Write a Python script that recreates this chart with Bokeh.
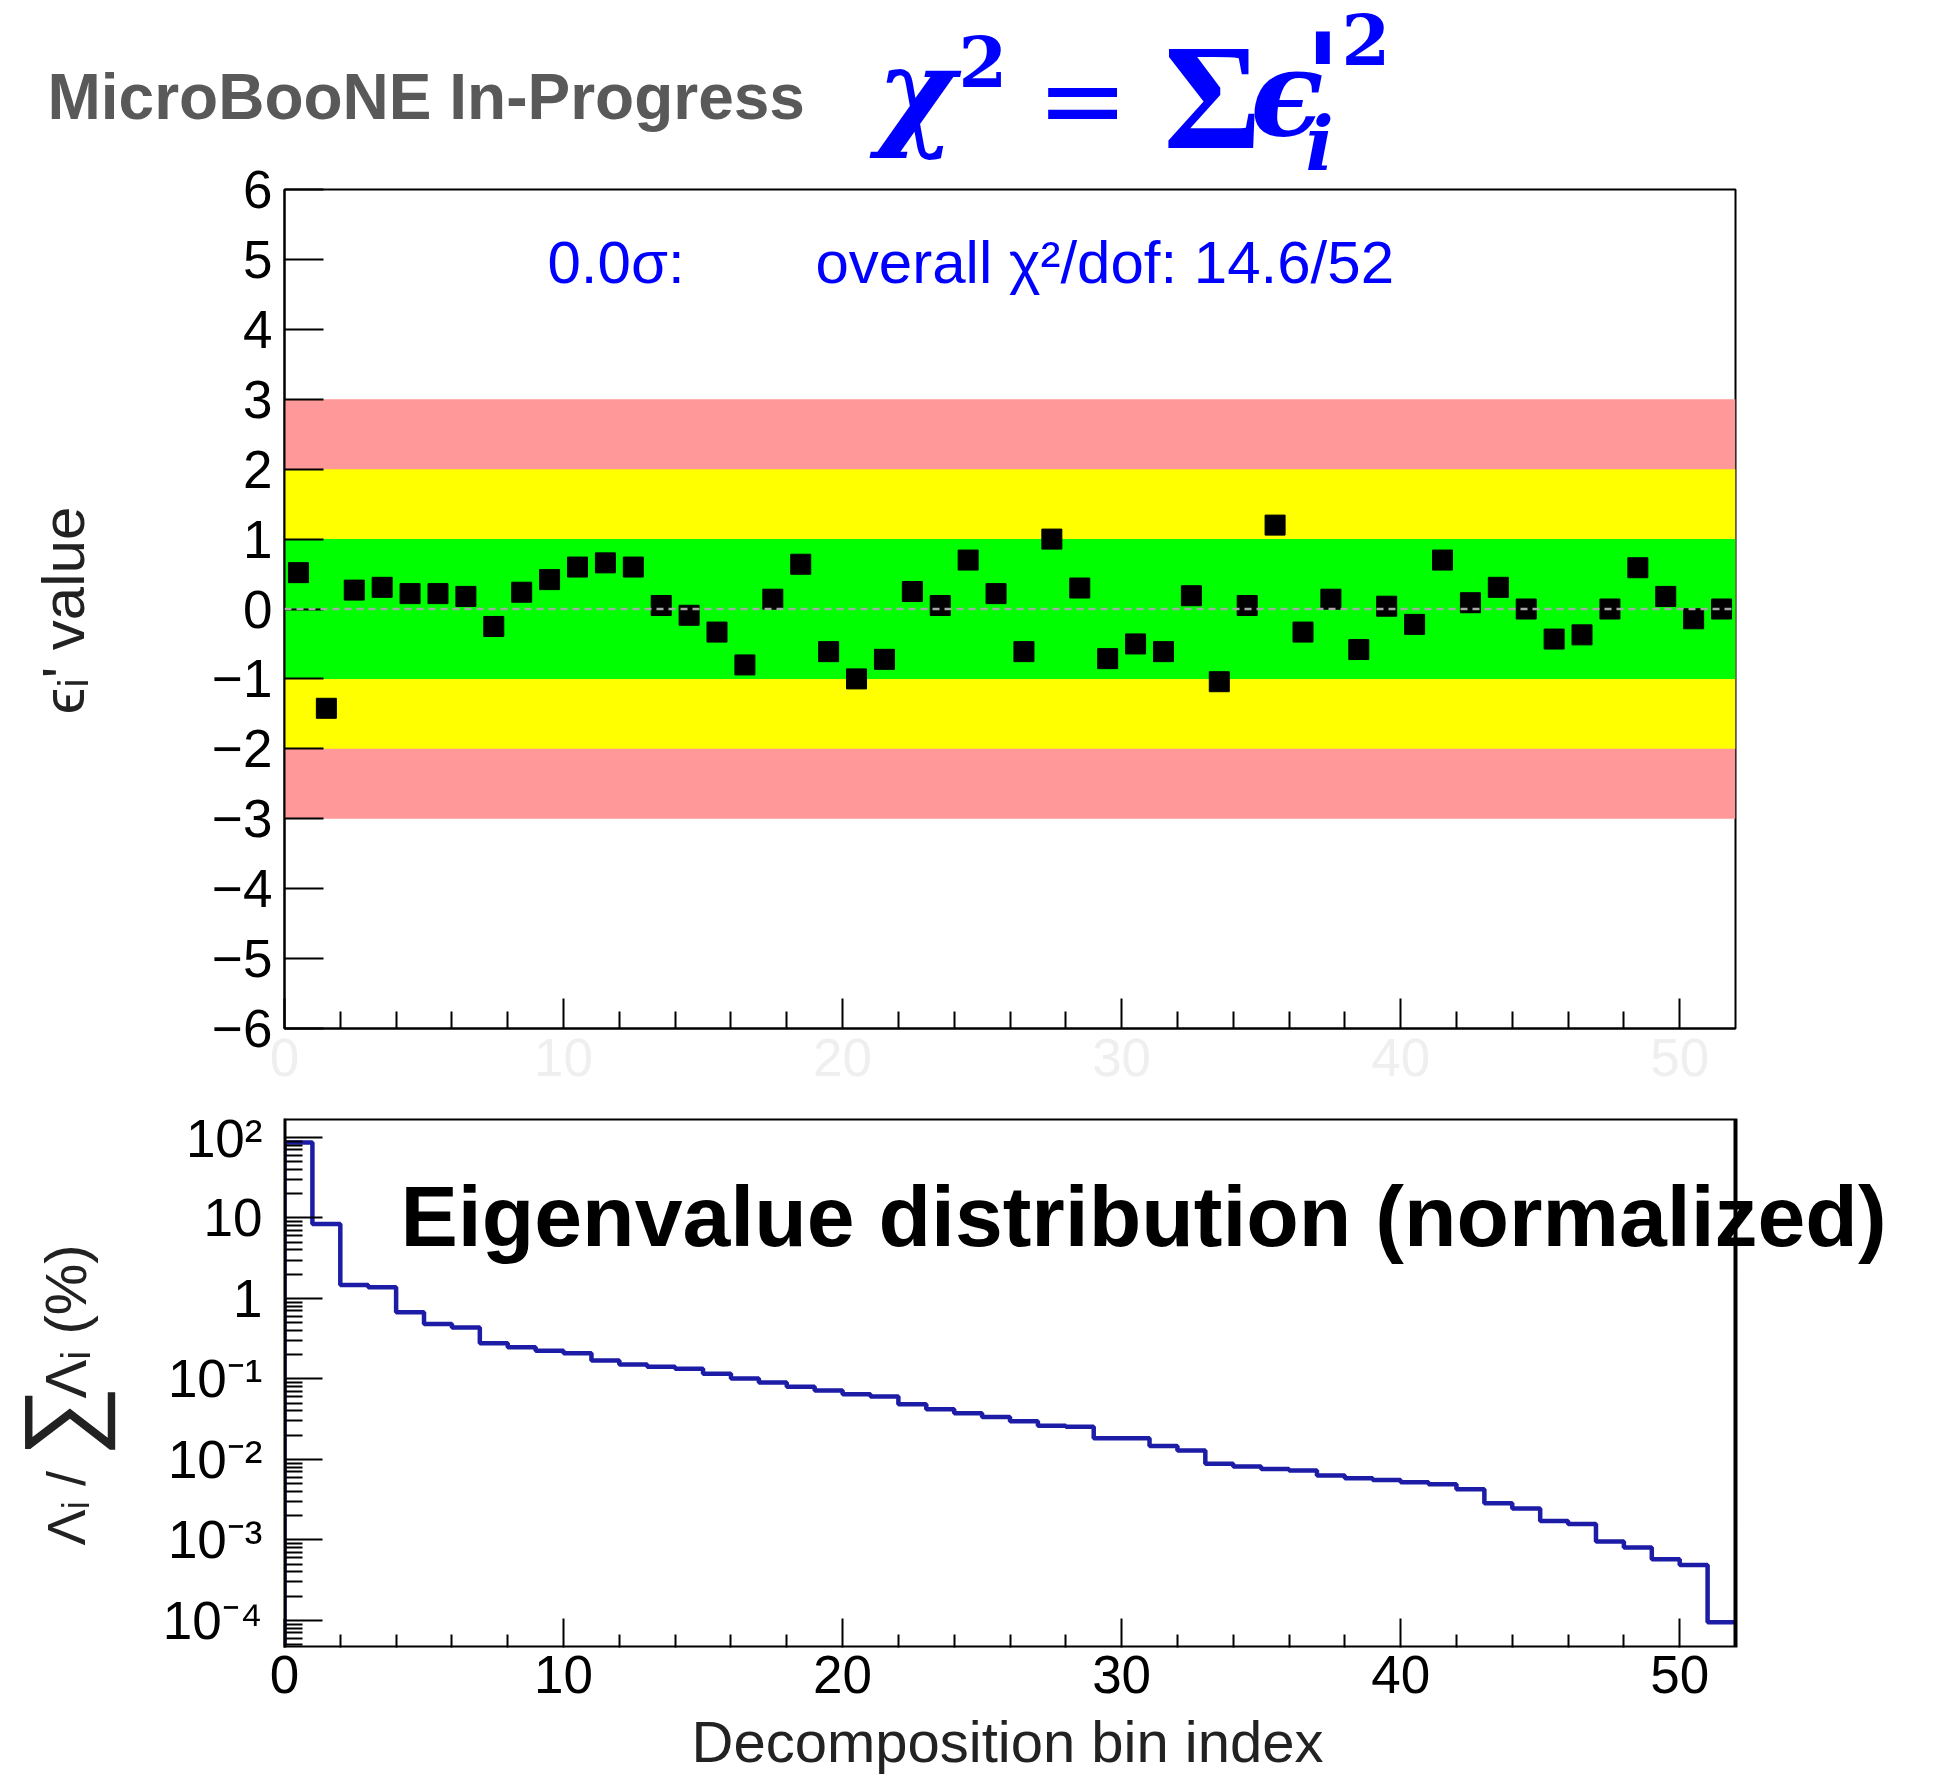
import math
from bokeh.plotting import figure
from bokeh.layouts import column, row
from bokeh.models import Range1d, FixedTicker, CustomJSTickFormatter, Label, Span, BoxAnnotation
from bokeh.embed import file_html
from bokeh.resources import INLINE

# ---------------- data ----------------
bin_index = list(range(52))
eps_values = [0.52, -1.42, 0.27, 0.31, 0.22, 0.22, 0.18, -0.25, 0.24, 0.42,
              0.60, 0.66, 0.60, 0.05, -0.09, -0.33, -0.80, 0.14, 0.64, -0.61,
              -1.00, -0.72, 0.25, 0.05, 0.70, 0.22, -0.61, 1.00, 0.30, -0.71,
              -0.50, -0.61, 0.19, -1.04, 0.05, 1.20, -0.33, 0.14, -0.58, 0.04,
              -0.22, 0.70, 0.09, 0.31, 0.00, -0.43, -0.37, 0.00, 0.59, 0.18,
              -0.14, 0.00]
eigen_percent = [86.7, 8.42, 1.47, 1.38, 0.674, 0.482, 0.434, 0.278, 0.248, 0.223,
                 0.209, 0.169, 0.151, 0.142, 0.134, 0.116, 0.101, 0.090, 0.080, 0.0716,
                 0.0646, 0.0603, 0.0485, 0.042, 0.0375, 0.0337, 0.0298, 0.0261, 0.0255, 0.0183,
                 0.0183, 0.0147, 0.0129, 0.0088, 0.00814, 0.00762, 0.00726, 0.00629, 0.00584, 0.00556,
                 0.00521, 0.00492, 0.00427, 0.00286, 0.00245, 0.00172, 0.00157, 0.000953, 0.000802, 0.000575,
                 0.000489, 0.000095]
band_lo = [-3, -2, -1]
band_hi = [3, 2, 1]
band_colors = ["#ff9999", "#ffff00", "#00ff00"]
x_major = [0, 10, 20, 30, 40, 50]
x_minor = [v for v in range(2, 52, 2) if v % 10 != 0]
eps_ticks = list(range(-6, 7))
log_major = [10.0 ** k for k in range(-4, 3)]
log_minor = [m * 10.0 ** k for k in range(-5, 3) for m in range(2, 10)]

X_MAX = 52
LOG_LO, LOG_HI = 4.6e-5, 172.0

# ---------------- layout geometry (pixels) ----------------
W = 1946
LBL_W = 150                 # left strip holding the rotated axis titles
HDR_H = 200                 # header strip (overlaps the top panel's upper border)
HDR_OVERLAP = 42
TOP_H = 950
BOT_H = 609
XL_H = 80
XL_OVERLAP = 21
FRAME_L = 284               # frame left edge on page
FRAME_R = 1735              # frame right edge on page
BOT_FRAME_R = W             # bottom frame is widened so its big caption is not clipped
X_VIEW = X_MAX * (BOT_FRAME_R - FRAME_L) / (FRAME_R - FRAME_L)

FONT = "Liberation Sans"
BLUE = "#0000ff"
TXT = "#222222"


def blank(width, height, transparent=False):
    f = figure(width=width, height=height, x_range=Range1d(0, 1), y_range=Range1d(0, 1),
               output_backend="svg", toolbar_location=None,
               min_border_left=0, min_border_right=0, min_border_top=0, min_border_bottom=0)
    f.axis.visible = False
    f.grid.visible = False
    f.outline_line_color = None
    if transparent:
        f.background_fill_color = None
        f.border_fill_color = None
    return f


def style_axes(p, ytick_in, yminor_in, xtick_in, xminor_in):
    p.xgrid.visible = False
    p.ygrid.visible = False
    p.outline_line_color = "black"
    p.outline_line_width = 2
    for ax in (p.xaxis[0], p.yaxis[0]):
        ax.axis_line_color = "black"
        ax.axis_line_width = 2
        ax.major_tick_line_color = "black"
        ax.major_tick_line_width = 2
        ax.minor_tick_line_color = "black"
        ax.minor_tick_line_width = 2
        ax.major_tick_out = 0
        ax.minor_tick_out = 0
        ax.major_label_text_font = FONT
        ax.major_label_text_font_size = "53px"
        ax.major_label_text_color = "black"
        ax.axis_label = None
    p.yaxis[0].major_tick_in = ytick_in
    p.yaxis[0].minor_tick_in = yminor_in
    p.xaxis[0].major_tick_in = xtick_in
    p.xaxis[0].minor_tick_in = xminor_in


def lab(fig, x, y, text, size, font=FONT, style="normal", color="black",
        align="left", baseline="alphabetic", angle=0.0):
    fig.add_layout(Label(x=x, y=y, x_units="screen", y_units="screen", text=text,
                         text_font=font, text_font_size=f"{size}px", text_font_style=style,
                         text_color=color, text_align=align, text_baseline=baseline,
                         angle=angle))


# ---------------- header ----------------
hdr = blank(W, HDR_H)
hdr.margin = (0, 0, -HDR_OVERLAP, 0)
SERIF = "DejaVu Serif"
lab(hdr, 47, 104, "MicroBooNE In-Progress", 64, style="bold", color="#595959")
lab(hdr, 876, 110, "χ", 120, font=SERIF, style="bold italic", color=BLUE)
lab(hdr, 958, 139, "2", 70, font=SERIF, style="bold", color=BLUE)
lab(hdr, 1036, 101, "=", 110, font="DejaVu Sans", color=BLUE)
lab(hdr, 1163, 104, "Σ", 150, font="Liberation Serif", style="bold", color=BLUE)
lab(hdr, 1250, 108, "ϵ", 120, font=SERIF, style="bold italic", color=BLUE)
lab(hdr, 1304, 124, "'", 120, font=SERIF, style="bold italic", color=BLUE)
lab(hdr, 1305, 57, "i", 74, font=SERIF, style="bold italic", color=BLUE)
lab(hdr, 1341, 161, "2", 70, font=SERIF, style="bold", color=BLUE)

# ---------------- top panel ----------------
tl = blank(LBL_W, TOP_H, transparent=True)
lab(tl, 63, 418, "ϵᵢ' value", 60, color=TXT, align="center", angle=math.pi / 2)

top = figure(width=W - LBL_W, height=TOP_H, x_range=Range1d(0, X_MAX), y_range=Range1d(-6, 6),
             output_backend="svg", toolbar_location=None,
             min_border_left=FRAME_L - LBL_W, min_border_right=W - FRAME_R,
             min_border_top=31, min_border_bottom=80)
style_axes(top, 39, 0, 30, 17)
top.border_fill_color = None
top.xaxis[0].ticker = FixedTicker(ticks=x_major, minor_ticks=x_minor)
top.xaxis[0].major_label_text_color = "#efefef"
top.xaxis[0].major_label_standoff = 10
top.yaxis[0].ticker = FixedTicker(ticks=eps_ticks, minor_ticks=[])
top.yaxis[0].major_label_standoff = 12
top.yaxis[0].formatter = CustomJSTickFormatter(
    code='return tick < 0 ? "\\u2212" + Math.abs(tick) : tick.toFixed(0);')

top.quad(left=[0] * len(band_lo), right=[X_MAX] * len(band_lo), bottom=band_lo, top=band_hi,
         fill_color=band_colors, line_color=None)
top.add_layout(Span(location=0, dimension="width", line_color="#a8a8a8", line_width=2.5,
                    line_dash="7 5"))
top.scatter(x=[i + 0.5 for i in bin_index], y=eps_values, marker="square", size=20,
            fill_color="black", line_color="black")

lab(top, 263, 766, "0.0σ:", 60, color=BLUE)
lab(top, 531, 766, "overall χ²/dof: 14.6/52", 60, color=BLUE)

# ---------------- bottom panel ----------------
bl = blank(LBL_W, BOT_H)
lab(bl, 65, 102, "Λᵢ / ", 54, color=TXT, angle=math.pi / 2)
lab(bl, 58, 226, "∑", 100, font=FONT, color=TXT, align="center", angle=math.pi / 2)
lab(bl, 65, 249, "Λᵢ (%)", 58, color=TXT, angle=math.pi / 2)

bot = figure(width=W - LBL_W, height=BOT_H, x_range=Range1d(0, X_VIEW),
             y_range=Range1d(LOG_LO, LOG_HI), y_axis_type="log",
             output_backend="svg", toolbar_location=None,
             min_border_left=FRAME_L - LBL_W, min_border_right=W - BOT_FRAME_R,
             min_border_top=10, min_border_bottom=70)
style_axes(bot, 38, 18, 29, 13)
bot.outline_line_color = None
bot.xaxis[0].axis_line_color = None
bot.xaxis[0].ticker = FixedTicker(ticks=x_major, minor_ticks=x_minor)
bot.xaxis[0].major_label_standoff = 8
bot.yaxis[0].ticker = FixedTicker(ticks=log_major, minor_ticks=log_minor)
bot.yaxis[0].major_label_standoff = 22
bot.yaxis[0].formatter = CustomJSTickFormatter(code="""
const e = Math.round(Math.log10(tick));
if (e === 0) return "1";
if (e === 1) return "10";
const sup = {"-": "\\u207b", "0": "\\u2070", "1": "\\u00b9", "2": "\\u00b2", "3": "\\u00b3", "4": "\\u2074", "5": "\\u2075"};
return "10" + String(e).split("").map(c => sup[c]).join("");
""")
bot.add_layout(BoxAnnotation(left=0, right=X_MAX, bottom=LOG_LO, top=LOG_HI,
                             fill_alpha=0, line_color="black", line_alpha=1.0, line_width=4))

step_x = [0]
step_y = [LOG_LO]
for i, v in zip(bin_index, eigen_percent):
    step_x += [i, i + 1]
    step_y += [v, v]
bot.line(step_x, step_y, line_color="#1c1ca6", line_width=4.5)

lab(bot, 116, 432, "Eigenvalue distribution (normalized)", 86, style="bold")

# ---------------- x title strip ----------------
xl = blank(W, XL_H, transparent=True)
xl.margin = (-XL_OVERLAP, 0, 0, 0)
lab(xl, 1007, 35, "Decomposition bin index", 58, color=TXT, align="center")

layout = column(hdr, row(tl, top), row(bl, bot), xl)
open("out.html", "w").write(file_html(layout, INLINE))
